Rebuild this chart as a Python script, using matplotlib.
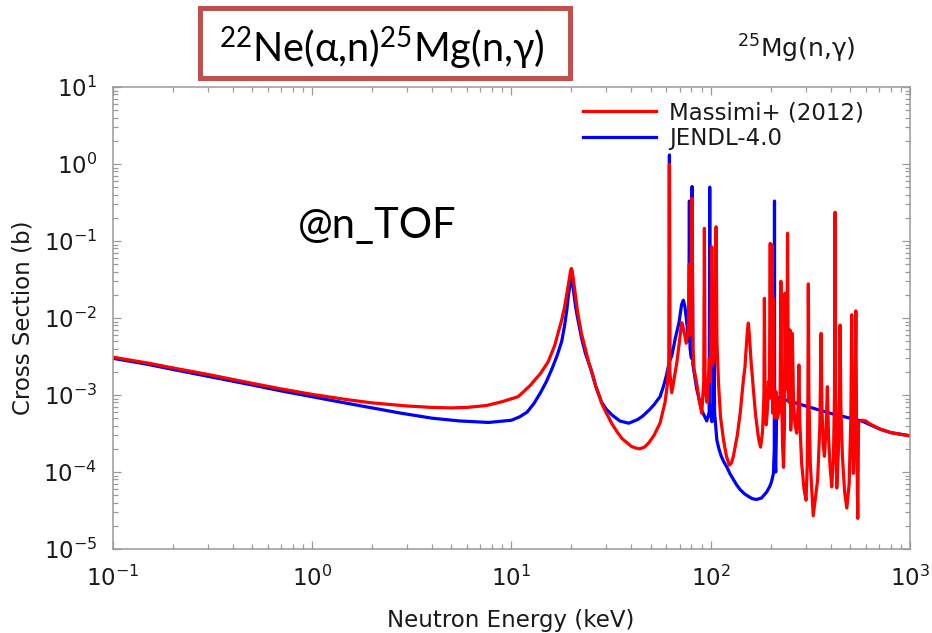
import matplotlib
matplotlib.use("Agg")
import matplotlib.pyplot as plt
from matplotlib.patches import Rectangle
from matplotlib.ticker import LogLocator, NullFormatter

# 25Mg(n,gamma) capture cross section, neutron energy in keV, cross section in barn
massimi_kev = [
    0.1, 0.15, 0.2, 0.3, 0.5, 0.7, 1.0, 1.5, 2.0, 3.0,
    4.0, 5.0, 6.0, 7.5, 9.0, 10.8, 11.5, 12.5, 13.2, 14.0,
    15.3, 16.0, 16.5, 17.2, 17.9, 18.5, 19.0, 19.3, 19.6, 19.8,
    20.0, 20.2, 20.4, 21.0, 21.5, 22.5, 23.5, 24.5, 25.5, 26.5,
    27.5, 28.4, 30.0, 32.0, 34.0, 36.0, 38.0, 40.0, 42.0, 44.0,
    46.5, 49.0, 52.0, 55.7, 59.0, 60.7, 61.8, 62.1, 62.4, 63.8,
    65.5, 67.6, 70.2, 71.6, 73.3, 75.4, 77.2, 78.2, 78.8, 80.7,
    81.5, 82.5, 85.1, 88.0, 90.2, 92.3, 93.0, 93.8, 96.0, 98.6,
    99.8, 101.3, 102.4, 104.5, 106.5, 107.5, 109.5, 112.0, 116.0, 120.0,
    124.0, 127.0, 130.0, 136.0, 140.6, 144.0, 146.0, 148.6, 150.0, 151.5,
    153.0, 154.5, 156.0, 157.5, 159.0, 160.0, 162.0, 163.7, 166.0, 168.0,
    170.0, 173.0, 175.0, 178.0, 182.0, 185.0, 186.0, 187.5, 190.0, 193.0,
    195.0, 197.0, 199.0, 200.5, 203.0, 205.0, 206.5, 208.0, 210.0, 213.0,
    216.0, 220.0, 223.0, 225.0, 227.0, 229.5, 232.0, 234.5, 236.0, 238.5,
    241.0, 243.0, 245.5, 247.5, 250.0, 252.0, 254.5, 257.0, 260.5, 265.0,
    270.0, 274.5, 277.0, 280.0, 286.0, 294.0, 301.0, 305.0, 307.5, 309.0,
    311.0, 316.0, 327.0, 344.0, 353.0, 358.0, 362.0, 367.0, 372.0, 379.0,
    385.0, 390.0, 397.0, 405.0, 413.0, 418.0, 421.0, 424.0, 429.0, 437.0,
    443.0, 446.0, 450.0, 458.0, 470.0, 482.0, 495.0, 505.0, 510.0, 514.0,
    520.0, 528.0, 535.0, 540.0, 547.0, 552.0, 573.0, 600.0, 631.0, 708.0,
    800.0, 1000.0,
]
massimi_barn = [
    3.1e-3, 2.6e-3, 2.25e-3, 1.85e-3, 1.42e-3, 1.2e-3, 1.02e-3, 8.7e-4, 7.9e-4, 7.2e-4,
    6.9e-4, 6.8e-4, 6.9e-4, 7.3e-4, 8.2e-4, 9.5e-4, 1.1e-3, 1.35e-3, 1.6e-3, 1.9e-3,
    2.7e-3, 3.6e-3, 4.4e-3, 6.5e-3, 9.5e-3, 0.014, 0.021, 0.027, 0.034, 0.041,
    0.044, 0.041, 0.034, 0.019, 0.012, 6.2e-3, 4.0e-3, 2.6e-3, 1.9e-3, 1.3e-3,
    1.0e-3, 7.8e-4, 5.8e-4, 4.2e-4, 3.3e-4, 2.7e-4, 2.4e-4, 2.15e-4, 2.05e-4, 2.0e-4,
    2.1e-4, 2.4e-4, 3.0e-4, 4.3e-4, 8.0e-4, 1.4e-3, 3.0e-3, 0.99, 2.0e-3, 1.07e-3,
    1.6e-3, 2.6e-3, 5.7e-3, 8.7e-3, 7.0e-3, 4.7e-3, 7.0e-3, 0.05, 6.0e-3, 0.36,
    4.0e-3, 2.2e-3, 1.4e-3, 8.0e-4, 5.8e-4, 1.5e-3, 0.146, 1.2e-3, 8.0e-4, 3.0e-3,
    1.5e-3, 0.084, 2.5e-3, 4.0e-3, 0.153, 5.0e-3, 1.4e-3, 5.2e-4, 2.6e-4, 1.6e-4,
    1.23e-4, 1.3e-4, 1.6e-4, 3.0e-4, 5.8e-4, 1.1e-3, 1.6e-3, 2.3e-3, 3.4e-3, 4.8e-3,
    7.0e-3, 8.6e-3, 6.5e-3, 4.5e-3, 3.2e-3, 2.4e-3, 1.7e-3, 1.2e-3, 8.0e-4, 5.5e-4,
    4.3e-4, 3.0e-4, 2.5e-4, 2.1e-4, 3.3e-4, 1.0e-3, 0.018, 9.0e-4, 4.1e-4, 7.0e-4,
    1.5e-3, 9.0e-4, 0.093, 9.6e-4, 0.089, 5.8e-4, 0.018, 1.2e-3, 5.0e-4, 1.1e-3,
    5.0e-4, 6.0e-4, 1.0e-3, 0.030, 1.0e-3, 2.2e-4, 1.15e-4, 4.0e-4, 0.021, 1.5e-3,
    1.2e-3, 0.126, 9.6e-4, 8.0e-4, 7.0e-3, 3.5e-4, 6.0e-4, 6.3e-3, 8.0e-4, 4.2e-4,
    3.2e-4, 7.0e-4, 2.45e-3, 4.5e-4, 1.3e-4, 6.0e-5, 4.3e-5, 1.2e-4, 1.2e-3, 0.0277,
    1.0e-3, 1.3e-4, 2.7e-5, 7.9e-5, 4.0e-4, 6.3e-3, 6.0e-4, 2.3e-4, 1.6e-4, 3.5e-4,
    1.28e-3, 3.0e-4, 1.2e-4, 6.4e-5, 1.5e-4, 1.0e-3, 0.236, 8.0e-4, 6.2e-5, 1.8e-4,
    1.1e-3, 8.1e-3, 7.0e-4, 1.6e-4, 5.5e-5, 3.4e-5, 7.0e-5, 5.0e-4, 0.011, 4.0e-4,
    9.6e-5, 4.0e-4, 0.0124, 3.0e-4, 2.5e-5, 4.5e-4, 4.7e-4, 4.6e-4, 4.2e-4, 3.6e-4,
    3.25e-4, 2.95e-4,
]

jendl_kev = [
    0.1, 0.15, 0.2, 0.3, 0.5, 0.7, 1.0, 1.5, 2.0, 2.8,
    4.0, 5.5, 7.7, 10.0, 11.0, 12.0, 13.0, 14.0, 15.0, 16.0,
    17.0, 17.9, 18.5, 19.0, 19.3, 19.6, 19.8, 20.0, 20.2, 20.4,
    21.0, 21.5, 22.5, 23.5, 25.0, 26.5, 28.4, 30.0, 32.0, 35.0,
    38.8, 43.0, 45.5, 49.5, 52.0, 55.7, 58.0, 60.0, 61.9, 62.1,
    62.3, 63.8, 66.5, 69.3, 71.5, 72.9, 74.3, 75.9, 77.6, 78.2,
    78.8, 80.1, 80.7, 81.4, 85.1, 90.2, 95.6, 98.3, 98.9, 99.5,
    101.5, 103.5, 104.0, 104.6, 107.4, 110.0, 113.0, 116.5, 120.5, 125.0,
    130.0, 135.0, 140.6, 148.0, 155.0, 162.0, 170.0, 180.0, 191.0, 198.0,
    202.0, 206.5, 208.5, 209.0, 209.5, 212.0, 215.0, 219.0, 270.0, 397.0,
    551.0, 573.0, 631.0, 708.0, 800.0, 1000.0,
]
jendl_barn = [
    3.0e-3, 2.5e-3, 2.15e-3, 1.75e-3, 1.35e-3, 1.13e-3, 9.5e-4, 7.8e-4, 6.8e-4, 5.8e-4,
    5.0e-4, 4.6e-4, 4.4e-4, 4.7e-4, 5.2e-4, 6.0e-4, 7.8e-4, 1.07e-3, 1.5e-3, 2.2e-3,
    3.3e-3, 5.0e-3, 8.0e-3, 0.013, 0.019, 0.025, 0.031, 0.034, 0.031, 0.025,
    0.014, 0.010, 5.5e-3, 3.5e-3, 2.2e-3, 1.3e-3, 8.0e-4, 6.5e-4, 5.5e-4, 4.6e-4,
    4.3e-4, 4.8e-4, 5.3e-4, 6.5e-4, 7.5e-4, 9.5e-4, 1.3e-3, 1.8e-3, 2.6e-3, 1.31,
    2.8e-3, 3.2e-3, 5.5e-3, 8.6e-3, 0.015, 0.017, 0.014, 8.6e-3, 5.0e-3, 0.33,
    4.0e-3, 3.0e-3, 0.51, 2.5e-3, 1.2e-3, 6.3e-4, 4.6e-4, 6.0e-4, 0.50, 6.0e-4,
    4.5e-4, 8.0e-4, 9.4e-3, 6.0e-4, 2.6e-4, 2.0e-4, 1.6e-4, 1.35e-4, 1.16e-4, 9.5e-5,
    8.0e-5, 6.8e-5, 5.9e-5, 5.2e-5, 4.8e-5, 4.5e-5, 4.4e-5, 4.6e-5, 5.5e-5, 6.5e-5,
    7.5e-5, 9.6e-5, 2.0e-4, 0.33, 2.0e-4, 1.0e-4, 9.3e-4, 9.2e-4, 7.8e-4, 5.8e-4,
    4.7e-4, 4.6e-4, 4.1e-4, 3.6e-4, 3.25e-4, 2.95e-4,
]

series_labels = ["Massimi+ (2012)", "JENDL-4.0"]
series_colors = ["#ff0000", "#0000ff"]
x_ticks = [1e-1, 1e0, 1e1, 1e2, 1e3]
y_ticks = [1e-5, 1e-4, 1e-3, 1e-2, 1e-1, 1e0, 1e1]

W, H = 932, 633
plt.rcParams["font.family"] = ["DejaVu Sans"]
plt.rcParams["font.size"] = 16.5
plt.rcParams["axes.unicode_minus"] = False

fig = plt.figure(figsize=(W / 100, H / 100), dpi=100)


def fx(px):
    return px / W


def fy(py):
    return 1 - py / H


ax = fig.add_axes([fx(112.7), fy(549), (910 - 112.7) / W, (549 - 87) / H])

blue_line, = ax.plot(jendl_kev, jendl_barn, color=series_colors[1], lw=2.3,
                     solid_joinstyle="round")
red_line, = ax.plot(massimi_kev, massimi_barn, color=series_colors[0], lw=2.3,
                    solid_joinstyle="round")

ax.set_xscale("log")
ax.set_yscale("log")
ax.set_xlim(x_ticks[0], x_ticks[-1])
ax.set_ylim(y_ticks[0], y_ticks[-1])
ax.set_xticks(x_ticks)
ax.set_yticks(y_ticks)
for axis in (ax.xaxis, ax.yaxis):
    axis.set_minor_locator(LogLocator(base=10, subs=range(2, 10), numticks=100))
    axis.set_minor_formatter(NullFormatter())

frame_grey = "#9a9a9a"
for sp in ax.spines.values():
    sp.set_color(frame_grey)
    sp.set_linewidth(1.1)
ax.tick_params(which="both", direction="in", top=True, right=True,
               color=frame_grey, width=0.9, labelcolor="#1a1a1a")
ax.tick_params(which="major", length=5.5)
ax.tick_params(which="minor", length=3.8)
ax.tick_params(axis="x", which="major", pad=12)
ax.tick_params(axis="y", which="major", pad=11)

leg = ax.legend([red_line, blue_line], series_labels, loc="upper left",
                bbox_to_anchor=((583 - 112.7) / 797.3, (549 - 101.5) / 462),
                frameon=False, borderpad=0, borderaxespad=0,
                handlelength=3.2, handletextpad=0.55, labelspacing=0.12,
                fontsize=16.5)
for t in leg.get_texts():
    t.set_color("#1a1a1a")

fig.text(fx(511), fy(620), "Neutron Energy (keV)", ha="center", va="center",
         color="#1a1a1a")
fig.text(fx(23), fy(318), "Cross Section (b)", ha="center", va="center",
         rotation=90, color="#1a1a1a")

# reaction chain headline in a framed box
fig.patches.append(Rectangle((fx(200), fy(77.5)), (569.5 - 200) / W, 70 / H,
                             transform=fig.transFigure, facecolor="white",
                             edgecolor="#c0504d", linewidth=3.6, zorder=5))
fig.text(fx(382), fy(62),
         r"$\mathregular{^{22}Ne(\alpha{,}n)^{25}Mg(n{,}\gamma)}$",
         family=["Lato", "DejaVu Sans"], fontsize=28.5, ha="center",
         va="baseline", color="black", zorder=6)

fig.text(fx(737), fy(58), r"$\mathregular{^{25}}$Mg(n,γ)", fontsize=18,
         ha="left", va="baseline", color="#1a1a1a")

fig.text(fx(298), fy(238), "@n_TOF", family=["Lato", "DejaVu Sans"],
         fontsize=30, ha="left", va="baseline", color="black")

fig.savefig("out.png", dpi=100)
